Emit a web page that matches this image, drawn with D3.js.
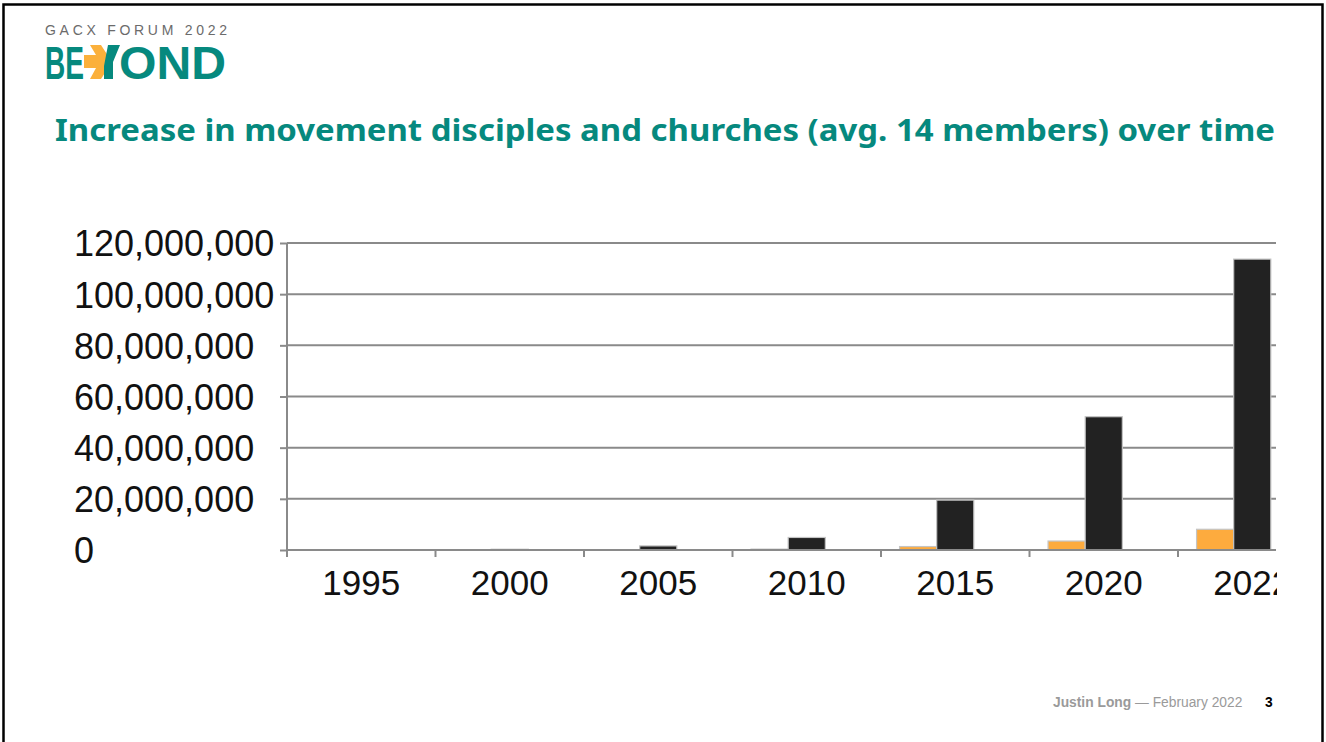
<!DOCTYPE html>
<html>
<head>
<meta charset="utf-8">
<script src="https://cdn.jsdelivr.net/npm/d3@7"></script>
<style>
  body { margin: 0; background: #fff; }
  svg { display: block; }
</style>
</head>
<body>
<svg id="slide" width="1326" height="742"></svg>
<script>
// values
const years = ["1995", "2000", "2005", "2010", "2015", "2020", "2022"];
const churches = [8000, 25000, 120000, 350000, 1350000, 3500000, 8100000];
const disciples = [60000, 300000, 1600000, 4900000, 19500000, 52100000, 113700000];
const yTicks = [0, 20000000, 40000000, 60000000, 80000000, 100000000, 120000000];
const series = ["churches", "disciples"];

const teal = "#06897e";
const svg = d3.select("#slide");

// slide frame
svg.append("rect")
  .attr("x", 3.5).attr("y", 4.5)
  .attr("width", 1319).attr("height", 760)
  .attr("fill", "none").attr("stroke", "#000").attr("stroke-width", 2.5);

// logo
const logo = svg.append("g");
logo.append("text")
  .attr("x", 45).attr("y", 35)
  .attr("font-family", "Liberation Sans, Arial, sans-serif")
  .attr("font-size", 14)
  .attr("fill", "#6b6b6b")
  .attr("textLength", 182)
  .attr("lengthAdjust", "spacing")
  .text("GACX FORUM 2022");
logo.append("text")
  .attr("x", 45).attr("y", 79)
  .attr("font-family", "Liberation Sans, Arial, sans-serif")
  .attr("font-weight", 700)
  .attr("font-size", 46)
  .attr("fill", teal)
  .attr("textLength", 39)
  .attr("lengthAdjust", "spacingAndGlyphs")
  .text("BE");
logo.append("path")
  .attr("d", "M84,55 L96,55 L90,45 L101,45 L112,62 L101,79 L90,79 L96,68 L84,68 Z")
  .attr("fill", "#fbb03b");
logo.append("path")
  .attr("d", "M108,45 L120,45 L113,62 L113,79 L104,79 L104,66 Z")
  .attr("fill", teal);
logo.append("text")
  .attr("x", 119).attr("y", 79)
  .attr("font-family", "Liberation Sans, Arial, sans-serif")
  .attr("font-weight", 700)
  .attr("font-size", 46)
  .attr("fill", teal)
  .attr("textLength", 107)
  .attr("lengthAdjust", "spacingAndGlyphs")
  .text("OND");

// title
svg.append("text")
  .attr("x", 55).attr("y", 141)
  .attr("font-family", "Noto Sans, sans-serif")
  .attr("font-weight", 700)
  .attr("font-size", 30)
  .attr("fill", teal)
  .attr("textLength", 1220)
  .attr("lengthAdjust", "spacingAndGlyphs")
  .text("Increase in movement disciples and churches (avg. 14 members) over time");

// chart (the source picture is cropped on the right)
svg.append("clipPath").attr("id", "crop")
  .append("rect").attr("x", 0).attr("y", 200).attr("width", 1277).attr("height", 420);

const chart = svg.append("g").attr("clip-path", "url(#crop)");

const plotLeft = 287, plotBase = 550, plotTop = 243;
const x = d3.scaleBand().domain(years).range([plotLeft, plotLeft + 148.5 * years.length]).padding(0);
const bw = x.bandwidth();
const x1 = d3.scaleBand().domain(series).range([bw / 8, bw * 5 / 8]).padding(0);
const y = d3.scaleLinear().domain([0, 120000000]).range([plotBase, plotTop]);

// gridlines
chart.append("g")
  .selectAll("line")
  .data(yTicks.slice(1))
  .join("line")
  .attr("x1", plotLeft).attr("x2", 1276)
  .attr("y1", d => y(d)).attr("y2", d => y(d))
  .attr("stroke", "#8a8a8a").attr("stroke-width", 2);

// y axis
const yAxis = chart.append("g")
  .attr("transform", `translate(${plotLeft},0)`)
  .call(d3.axisLeft(y).tickValues(yTicks).tickFormat(d3.format(",")).tickSize(7).tickSizeOuter(0));
yAxis.select(".domain").remove();
yAxis.selectAll(".tick line").attr("stroke", "#8a8a8a").attr("stroke-width", 2);
yAxis.selectAll(".tick text")
  .attr("x", 74 - plotLeft)
  .attr("text-anchor", "start")
  .attr("dy", "0.36em")
  .attr("font-family", "Liberation Sans, Arial, sans-serif")
  .attr("font-size", 36)
  .attr("fill", "#111");
chart.append("line")
  .attr("x1", plotLeft).attr("x2", plotLeft)
  .attr("y1", plotTop).attr("y2", plotBase + 7)
  .attr("stroke", "#8a8a8a").attr("stroke-width", 2);

// bars
const groups = chart.append("g")
  .selectAll("g")
  .data(years)
  .join("g")
  .attr("transform", d => `translate(${x(d)},0)`);

const vals = { churches, disciples };
const fills = { churches: "#fdab3e", disciples: "#222222" };
groups.selectAll("rect")
  .data((d, i) => series.map(s => ({ s, v: vals[s][i] })))
  .join("rect")
  .attr("x", d => x1(d.s))
  .attr("width", x1.bandwidth())
  .attr("y", d => y(d.v))
  .attr("height", d => plotBase - y(d.v))
  .attr("fill", d => fills[d.s])
  .attr("stroke", "#c4c4c4")
  .attr("stroke-width", 1.2);

// x axis line and category boundary ticks
chart.append("line")
  .attr("x1", plotLeft).attr("x2", 1276)
  .attr("y1", plotBase).attr("y2", plotBase)
  .attr("stroke", "#8a8a8a").attr("stroke-width", 2);
chart.append("g")
  .selectAll("line")
  .data(years.slice(1))
  .join("line")
  .attr("x1", d => x(d)).attr("x2", d => x(d))
  .attr("y1", plotBase).attr("y2", plotBase + 7)
  .attr("stroke", "#8a8a8a").attr("stroke-width", 2);

const xAxis = chart.append("g")
  .attr("transform", `translate(0,${plotBase})`)
  .call(d3.axisBottom(x).tickSize(0));
xAxis.select(".domain").remove();
xAxis.selectAll(".tick text")
  .attr("y", 45)
  .attr("dy", 0)
  .attr("font-family", "Liberation Sans, Arial, sans-serif")
  .attr("font-size", 35)
  .attr("fill", "#111");

// footer
const foot = svg.append("text")
  .attr("x", 1053).attr("y", 707)
  .attr("font-family", "Liberation Sans, Arial, sans-serif")
  .attr("font-size", 13.8)
  .attr("fill", "#9a9a9a");
foot.append("tspan").attr("font-weight", 700).text("Justin Long");
foot.append("tspan").text(" \u2014 February 2022");
svg.append("text")
  .attr("x", 1265).attr("y", 707)
  .attr("font-family", "Liberation Sans, Arial, sans-serif")
  .attr("font-size", 13.8)
  .attr("font-weight", 700)
  .attr("fill", "#000")
  .text("3");
</script>
</body>
</html>
